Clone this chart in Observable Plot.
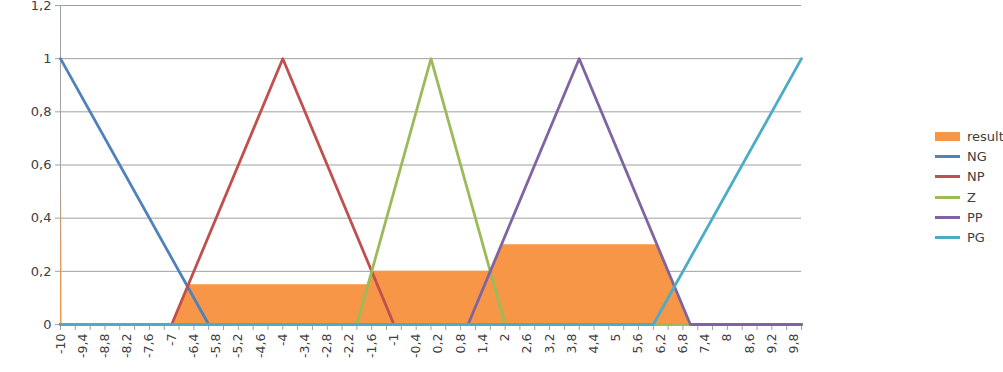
<!DOCTYPE html>
<html>
<head>
<meta charset="utf-8">
<script src="https://cdn.jsdelivr.net/npm/d3@7"></script>
<script src="https://cdn.jsdelivr.net/npm/@observablehq/plot@0.6"></script>
<style>
  html, body { margin: 0; padding: 0; background: #fff; }
  #wrap { position: relative; width: 1003px; height: 372px; }
  #legend { position: absolute; left: 935px; top: 126px; font: 13px "DejaVu Sans", sans-serif; color: #404040; }
  .row { display: flex; align-items: center; height: 20.3px; }
  .sw { width: 25px; margin-right: 7px; }
</style>
</head>
<body>
<div id="wrap"><div id="legend"></div></div>
<script>
// Membership functions: vertices (x, membership)
const NG = [[-10, 1], [-6, 0], [10, 0]];
const NP = [[-10, 0], [-7, 0], [-4, 1], [-1, 0], [10, 0]];
const Z  = [[-10, 0], [-2, 0], [0, 1], [2, 0], [10, 0]];
const PP = [[-10, 0], [1, 0], [4, 1], [7, 0], [10, 0]];
const PG = [[-10, 0], [6, 0], [10, 1]];
// Aggregated result (area)
const result = [[-10, 0], [-7, 0], [-6.55, 0.15], [-1.7, 0.15], [-1.6, 0.2], [1.6, 0.2], [1.9, 0.3], [6.1, 0.3], [7, 0], [10, 0]];
const resultSpike = [{x1: -10, x2: -9.96, y: 0.55}];

const seriesNames = ["NG", "NP", "Z", "PP", "PG"];
const seriesData = [NG, NP, Z, PP, PG];
const seriesColors = ["#4F81BD", "#C0504D", "#9BBB59", "#8064A2", "#4BACC6"];
const resultColor = "#F79646";

const yTicks = [0, 0.2, 0.4, 0.6, 0.8, 1, 1.2];
const xLabels = [-10, -9.4, -8.8, -8.2, -7.6, -7, -6.4, -5.8, -5.2, -4.6, -4, -3.4, -2.8, -2.2, -1.6, -1, -0.4,
                 0.2, 0.8, 1.4, 2, 2.6, 3.2, 3.8, 4.4, 5, 5.6, 6.2, 6.8, 7.4, 8, 8.6, 9.2, 9.8];
const xTickMarks = d3.range(-100, 101, 4).map(v => v / 10);

const fmt = d => String(+d.toFixed(1)).replace(".", ",");

const lineMarks = seriesData.map((s, i) =>
  Plot.line(s, {x: d => d[0], y: d => d[1], stroke: seriesColors[i], strokeWidth: 2.8, strokeLinejoin: "round"})
);

const chart = Plot.plot({
  width: 1003,
  height: 372,
  marginLeft: 60,
  marginRight: 202,
  marginTop: 5,
  marginBottom: 48,
  style: {fontFamily: "DejaVu Sans, sans-serif", color: "#404040", background: "#fff", overflow: "visible"},
  x: {domain: [-10, 10]},
  y: {domain: [0, 1.2]},
  marks: [
    Plot.gridY(yTicks, {stroke: "#a0a0a0", strokeOpacity: 1, strokeWidth: 1}),
    Plot.ruleX([-10], {stroke: "#a0a0a0", strokeWidth: 1}),
    Plot.ruleY([0], {stroke: "#a0a0a0"}),
    Plot.axisY({ticks: yTicks, tickFormat: fmt, tickSize: 5, tickPadding: 4, stroke: "#a0a0a0", fontSize: 13, label: null, fill: "#404040"}),
    Plot.axisX({ticks: xTickMarks, tickFormat: () => "", tickSize: 6, stroke: "#a0a0a0", label: null}),
    Plot.axisX({ticks: xLabels, tickFormat: fmt, tickSize: 0, tickPadding: 9, tickRotate: -90, fontSize: 12.5, label: null, fill: "#404040"}),
    Plot.areaY(result, {x: d => d[0], y: d => d[1], fill: resultColor}),
    Plot.rectY(resultSpike, {x1: "x1", x2: "x2", y: "y", fill: "url(#spikeFade)"}),
    ...lineMarks
  ]
});

const defs = d3.select(chart).insert("defs", ":first-child");
const g = defs.append("linearGradient").attr("id", "spikeFade").attr("x1", 0).attr("y1", 1).attr("x2", 0).attr("y2", 0);
g.append("stop").attr("offset", "0").attr("stop-color", resultColor).attr("stop-opacity", 1);
g.append("stop").attr("offset", "0.5").attr("stop-color", resultColor).attr("stop-opacity", 0.7);
g.append("stop").attr("offset", "1").attr("stop-color", resultColor).attr("stop-opacity", 0);

document.getElementById("wrap").prepend(chart);

// Legend
const legend = document.getElementById("legend");
const items = [{name: "result", color: resultColor, rect: true}].concat(seriesNames.map((n, i) => ({name: n, color: seriesColors[i]})));
for (const it of items) {
  const row = document.createElement("div");
  row.className = "row";
  const sw = document.createElement("div");
  sw.className = "sw";
  sw.style.background = it.color;
  sw.style.height = it.rect ? "9px" : "3px";
  row.appendChild(sw);
  const t = document.createElement("span");
  t.textContent = it.name;
  row.appendChild(t);
  legend.appendChild(row);
}
</script>
</body>
</html>
